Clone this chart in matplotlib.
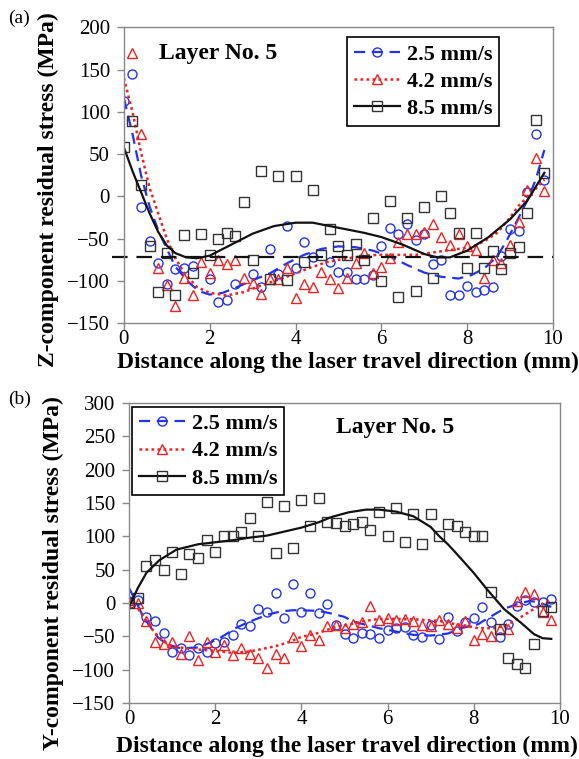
import matplotlib
matplotlib.use("Agg")
import matplotlib.pyplot as plt
from matplotlib.lines import Line2D

plt.rcParams['font.family'] = ['Liberation Serif', 'DejaVu Serif']

# ---------------- (a) Z-component, measured points ----------------
za_x = [0.0, 0.2, 0.4, 0.6, 0.8, 1.0, 1.2, 1.4, 1.6, 2.0, 2.2, 2.4, 2.6, 3.0, 3.2, 3.4,
        3.6, 3.8, 4.0, 4.2, 4.4, 4.8, 5.0, 5.2, 5.4, 5.6, 5.8, 6.0, 6.2, 6.4, 6.6, 6.8,
        7.0, 7.2, 7.4, 7.6, 7.8, 8.0, 8.2, 8.4, 8.6, 8.8, 9.0, 9.2, 9.4, 9.6, 9.8]
za_y = [113, 145, -12, -53, -79, -104, -86, -85, -82, -97, -125, -122, -104, -92, -107, -62,
        -92, -35, -85, -54, -71, -77, -89, -89, -97, -98, -93, -58, -37, -44, -33, -52,
        -44, -80, -75, -116, -116, -106, -113, -110, -107, -70, -39, -41, 5, 74, 20]

zb_x = [0.2, 0.4, 0.8, 1.0, 1.2, 1.4, 1.6, 1.8, 2.0, 2.2, 2.4, 2.6, 2.8, 3.0, 3.2, 3.4,
        3.6, 3.8, 4.0, 4.2, 4.4, 4.6, 4.8, 5.0, 5.2, 5.4, 5.6, 5.8, 6.0, 6.2, 6.4, 6.6,
        6.8, 7.0, 7.2, 7.4, 7.6, 7.8, 8.0, 8.2, 8.4, 8.6, 8.8, 9.0, 9.2, 9.4, 9.6, 9.8]
zb_y = [170, 74, -84, -105, -129, -96, -117, -78, -91, -75, -80, -75, -96, -102, -115, -97,
        -97, -84, -120, -103, -107, -89, -97, -108, -96, -79, -67, -91, -83, -73, -54, -44,
        -44, -42, -33, -48, -57, -44, -59, -63, -96, -75, -79, -57, -30, 8, 45, 6]

zc_x = [0.0, 0.2, 0.4, 0.6, 0.8, 1.0, 1.2, 1.4, 1.6, 1.8, 2.0, 2.2, 2.4, 2.6, 2.8, 3.0,
        3.2, 3.4, 3.6, 3.8, 4.0, 4.2, 4.4, 4.6, 4.8, 5.0, 5.2, 5.4, 5.6, 5.8, 6.0, 6.2,
        6.4, 6.6, 6.8, 7.0, 7.2, 7.4, 7.6, 7.8, 8.0, 8.2, 8.4, 8.6, 8.8, 9.0, 9.2, 9.4,
        9.6, 9.8]
zc_y = [58, 89, 13, -59, -113, -67, -117, -45, -91, -44, -69, -50, -43, -47, -6, -75,
        30, -97, 24, -99, 24, -77, 8, -69, -38, -59, -69, -56, -75, -25, -100, -5,
        -119, -26, -112, -13, -96, 1, -20, -43, -85, -43, -84, -65, -86, -67, -60, -20,
        91, 28]

# (a) trend lines
zfa_x = [0.0, 0.2, 0.4, 0.6, 0.8, 1.0, 1.2, 1.5, 1.75, 2.0, 2.3, 2.6, 3.0, 3.4, 3.8, 4.2,
         4.6, 5.0, 5.4, 5.8, 6.2, 6.6, 7.0, 7.4, 7.8, 8.1, 8.4, 8.7, 8.9, 9.1, 9.4, 9.6, 9.8]
zfa_y = [116, 74, 25, -12, -40, -62, -83, -101, -112, -116, -114, -108, -99, -91, -79, -69,
         -62, -59, -60, -64, -71, -81, -90, -95, -97, -93, -85, -71, -54, -35, -5, 20, 55]

zfb_x = [0.0, 0.2, 0.4, 0.6, 0.8, 1.0, 1.2, 1.4, 1.7, 2.0, 2.4, 2.8, 3.1, 3.5, 3.9, 4.3,
         4.7, 5.1, 5.5, 5.9, 6.4, 6.8, 7.1, 7.5, 7.8, 8.1, 8.4, 8.7, 9.0, 9.2, 9.5, 9.8]
zfb_y = [140, 100, 52, 10, -20, -50, -73, -90, -107, -114, -117, -113, -107, -100, -93, -85,
         -78, -74, -71, -69, -69, -69, -67, -64, -62, -60, -53, -43, -25, -11, 4, 20]

zfc_x = [0.0, 0.2, 0.4, 0.6, 0.8, 1.0, 1.2, 1.45, 1.7, 2.0, 2.5, 3.0, 3.5, 4.0, 4.4, 4.8,
         5.2, 5.6, 6.0, 6.5, 7.0, 7.3, 7.6, 8.0, 8.5, 9.0, 9.4, 9.8]
zfc_y = [58, 30, 5, -20, -42, -58, -67, -72, -73, -70, -57, -44, -35, -31, -31, -35,
         -39, -43, -48, -57, -68, -72, -72, -64, -48, -27, -5, 28]

z_ref = -72

# ---------------- (b) Y-component, measured points ----------------
ya_x = [0.0, 0.2, 0.4, 0.6, 0.8, 1.0, 1.2, 1.4, 1.6, 1.8, 2.0, 2.2, 2.4, 2.6, 2.8, 3.0,
        3.2, 3.4, 3.6, 3.8, 4.0, 4.2, 4.4, 4.6, 4.8, 5.0, 5.2, 5.4, 5.6, 5.8, 6.0, 6.2,
        6.4, 6.6, 6.8, 7.0, 7.2, 7.4, 7.6, 7.8, 8.0, 8.2, 8.4, 8.6, 8.8, 9.0, 9.2, 9.4,
        9.6, 9.8]
ya_y = [3, 5, -21, -27, -45, -74, -67, -78, -68, -74, -60, -58, -48, -32, -35, -9,
        -13, 15, -23, 29, -13, 15, -15, -2, -33, -46, -52, -45, -47, -53, -40, -38,
        -36, -48, -51, -33, -54, -21, -42, -29, -22, -6, -29, -51, -32, -4, 4, 1,
        1, 6]

yb_x = ya_x
yb_y = [1, 0, -27, -59, -62, -59, -77, -50, -85, -59, -74, -63, -78, -68, -77, -83,
        -98, -76, -82, -51, -65, -48, -56, -35, -33, -37, -32, -29, -5, -26, -23, -25,
        -24, -27, -33, -34, -26, -32, -38, -27, -56, -47, -50, -39, -39, 3, 16, 14,
        -13, -26]

yc_x = ya_x
yc_y = [0, 8, 56, 65, 49, 77, 44, 73, 68, 94, 77, 100, 100, 107, 128, 100,
        151, 75, 145, 82, 154, 115, 157, 121, 120, 115, 118, 122, 110, 137, 100, 142,
        91, 133, 88, 134, 101, 119, 115, 107, 100, 100, 17, -39, -83, -91, -98, -62,
        -12, -6]

# (b) trend lines
yfa_x = [0.0, 0.15, 0.3, 0.45, 0.67, 0.9, 1.2, 1.6, 1.9, 2.1, 2.5, 2.8, 3.2, 3.5, 3.8, 4.0,
         4.4, 4.7, 5.0, 5.2, 5.5, 5.8, 6.2, 6.6, 7.0, 7.4, 7.7, 8.1, 8.3, 8.7, 9.0, 9.3,
         9.5, 9.8]
yfa_y = [22, 3, -17, -32, -52, -63, -68, -67, -59, -53, -37, -28, -18, -13, -11, -11,
         -12, -16, -21, -28, -33, -38, -43, -48, -49, -46, -38, -32, -24, -9, -2, 3,
         1, -6]

yfb_x = [0.0, 0.2, 0.4, 0.6, 0.8, 1.0, 1.4, 2.0, 2.4, 2.8, 3.1, 3.4, 3.7, 4.0, 4.4, 4.7,
         5.0, 5.4, 5.8, 6.2, 6.7, 7.2, 7.5, 7.8, 8.1, 8.5, 8.8, 9.1, 9.4, 9.6, 9.8]
yfb_y = [3, -8, -28, -45, -58, -65, -69, -72, -75, -73, -69, -65, -59, -51, -45, -38,
         -34, -28, -24, -24, -25, -27, -31, -34, -38, -38, -32, -21, -9, -2, 5]

yfc_x = [0.0, 0.2, 0.4, 0.7, 1.1, 1.6, 2.0, 2.4, 2.8, 3.2, 3.6, 4.0, 4.4, 4.7, 5.1, 5.5,
         5.8, 6.2, 6.6, 7.0, 7.2, 7.4, 7.6, 8.0, 8.3, 8.7, 9.1, 9.4, 9.6, 9.8]
yfc_y = [-6, 22, 45, 64, 80, 88, 91, 94, 98, 101, 107, 113, 121, 129, 136, 140,
         140, 137, 130, 114, 100, 88, 74, 45, 21, -9, -30, -47, -53, -54]

labels = ['2.5 mm/s', '4.2 mm/s', '8.5 mm/s']
xticks = [0, 2, 4, 6, 8, 10]
yticks_a = [-150, -100, -50, 0, 50, 100, 150, 200]
yticks_b = [-150, -100, -50, 0, 50, 100, 150, 200, 250, 300]

BLUE = '#2233ee'
RED = '#ee2222'
BLACK = '#111111'
SQ = '#333333'
SPINE = '#888888'
FS = 16      # legend text
FS_LAB = 17  # axis titles, "Layer No. 5"
FS_TICK = 15

fig = plt.figure(figsize=(5.79, 7.59), dpi=100)
ax1 = fig.add_axes([0.214, 0.574, 0.741, 0.390])
ax2 = fig.add_axes([0.223, 0.074, 0.744, 0.395])

line_kw = [dict(color=BLUE, lw=1.6, dashes=(5, 3)),
           dict(color=RED, lw=1.8, dashes=(1.1, 1.3)),
           dict(color=BLACK, lw=1.6, ls='-')]
mark_kw = [dict(marker='o', mfc='none', mec=BLUE, ls='none', ms=6.5, mew=1.0),
           dict(marker='^', mfc='none', mec=RED, ls='none', ms=7, mew=1.0),
           dict(marker='s', mfc='none', mec=SQ, ls='none', ms=6.5, mew=1.0)]


def style_axes(ax, yticks, ylim):
    ax.set_xlim(0, 10)
    ax.set_ylim(*ylim)
    ax.set_xticks(xticks)
    ax.set_yticks(yticks)
    for s in ax.spines.values():
        s.set_color(SPINE)
        s.set_linewidth(1.0)
    ax.tick_params(direction='out', length=5, width=1, color=SPINE,
                   labelsize=FS_TICK)
    ax.tick_params(axis='y', pad=5)
    ax.tick_params(axis='x', pad=0)


def legend_handles():
    hs = []
    for lk, mk in zip(line_kw, mark_kw):
        kw = dict(lk)
        kw.update({k: v for k, v in mk.items() if k != 'ls'})
        hs.append(Line2D([0], [0], **kw))
    return hs


def add_legend(ax, anchor):
    leg = ax.legend(legend_handles(), labels, loc='upper left', bbox_to_anchor=anchor,
                    borderaxespad=0, prop=dict(size=FS, weight='bold'), frameon=True,
                    fancybox=False, edgecolor='black', handlelength=2.1,
                    handletextpad=0.3, labelspacing=0.3, borderpad=0.3, framealpha=1)
    leg.get_frame().set_linewidth(1.2)


# ---------- panel (a)
pts_a = [(za_x, za_y), (zb_x, zb_y), (zc_x, zc_y)]
fits_a = [(zfa_x, zfa_y), (zfb_x, zfb_y), (zfc_x, zfc_y)]
for (px, py), (fx, fy), lk, mk in zip(pts_a, fits_a, line_kw, mark_kw):
    ax1.plot(px, py, **mk)
    ax1.plot(fx, fy, **lk)
ax1.plot([-0.27, 10], [z_ref, z_ref], color=BLACK, lw=1.6, dashes=(7, 4), clip_on=False)
style_axes(ax1, yticks_a, (-150, 200))
add_legend(ax1, (0.52, 0.966))
ax1.text(0.082, 0.912, 'Layer No. 5', transform=ax1.transAxes, fontsize=FS_LAB,
         fontweight='bold', va='center', ha='left')

# ---------- panel (b)
pts_b = [(ya_x, ya_y), (yb_x, yb_y), (yc_x, yc_y)]
fits_b = [(yfa_x, yfa_y), (yfb_x, yfb_y), (yfc_x, yfc_y)]
for (px, py), (fx, fy), lk, mk in zip(pts_b, fits_b, line_kw, mark_kw):
    ax2.plot(px, py, **mk)
    ax2.plot(fx, fy, **lk)
style_axes(ax2, yticks_b, (-150, 300))
add_legend(ax2, (0.007, 0.987))
ax2.text(0.48, 0.92, 'Layer No. 5', transform=ax2.transAxes, fontsize=FS_LAB,
         fontweight='bold', va='center', ha='left')

# axis titles
xl = 'Distance along the laser travel direction (mm)'
fig.text(348 / 579, 1 - 362 / 759, xl, fontsize=FS_LAB, fontweight='bold', ha='center', va='center')
fig.text(347 / 579, 1 - 746 / 759, xl, fontsize=FS_LAB, fontweight='bold', ha='center', va='center')
fig.text(48 / 579, 1 - 190 / 759, 'Z-component residual stress (MPa)', fontsize=FS_LAB,
         fontweight='bold', rotation=90, ha='center', va='center')
fig.text(53 / 579, 1 - 573 / 759, 'Y-component residual stress (MPa)', fontsize=FS_LAB,
         fontweight='bold', rotation=90, ha='center', va='center')
fig.text(8 / 579, 1 - 18 / 759, '(a)', fontsize=14, ha='left', va='center')
fig.text(8 / 579, 1 - 399 / 759, '(b)', fontsize=14, ha='left', va='center')

fig.savefig('out.png', dpi=100)
